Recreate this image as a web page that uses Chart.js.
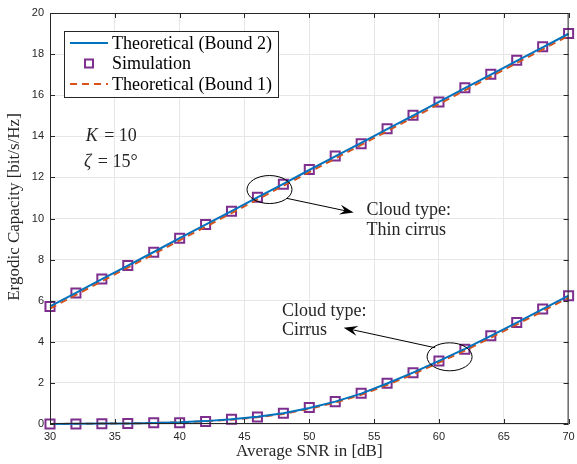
<!DOCTYPE html>
<html>
<head>
<meta charset="utf-8">
<script src="https://cdn.jsdelivr.net/npm/chart.js@4.4.0/dist/chart.umd.min.js"></script>
<style>
  html, body { margin: 0; padding: 0; background: #fff; }
  #wrap { width: 577px; height: 464px; }
</style>
</head>
<body>
<div id="wrap"><canvas id="grafica"></canvas></div>
<script>
// datos
var snr = [30, 32, 34, 36, 38, 40, 42, 44, 46, 48, 50, 52, 54, 56, 58, 60, 62, 64, 66, 68, 70];

var thinBound2 = [5.72, 6.38, 7.05, 7.71, 8.37, 9.04, 9.70, 10.36, 11.03, 11.69, 12.36, 13.02, 13.68, 14.35, 15.01, 15.67, 16.34, 17.00, 17.67, 18.33, 18.99];
var thinSim    = [5.72, 6.37, 7.06, 7.71, 8.36, 9.04, 9.71, 10.35, 11.03, 11.67, 12.38, 13.04, 13.64, 14.37, 15.02, 15.67, 16.36, 17.02, 17.70, 18.36, 19.00];
var thinBound1 = [5.62, 6.28, 6.95, 7.61, 8.27, 8.94, 9.60, 10.26, 10.93, 11.59, 12.26, 12.92, 13.58, 14.25, 14.91, 15.57, 16.24, 16.90, 17.57, 18.23, 18.89];

var cirrusBound2 = [0.00, 0.01, 0.02, 0.03, 0.05, 0.08, 0.14, 0.23, 0.35, 0.52, 0.78, 1.09, 1.48, 1.97, 2.50, 3.07, 3.66, 4.29, 4.93, 5.59, 6.25];
var cirrusSim    = [0.00, 0.00, 0.01, 0.02, 0.06, 0.06, 0.12, 0.23, 0.34, 0.52, 0.80, 1.09, 1.50, 1.98, 2.49, 3.07, 3.64, 4.29, 4.94, 5.60, 6.24];
var cirrusBound1 = [0.00, 0.01, 0.02, 0.03, 0.05, 0.08, 0.13, 0.21, 0.33, 0.49, 0.74, 1.04, 1.42, 1.90, 2.42, 2.99, 3.57, 4.20, 4.84, 5.49, 6.15];

var xTicks = [30, 35, 40, 45, 50, 55, 60, 65, 70];
var yTicks = [0, 2, 4, 6, 8, 10, 12, 14, 16, 18, 20];

var azul = '#0072BD';
var naranja = '#D95319';
var morado = '#7E2F8E';
var serif = '"Liberation Serif", "Times New Roman", serif';
var sans = '"Liberation Sans", Arial, sans-serif';

function pares(ys) {
    return snr.map(function (x, i) { return { x: x, y: ys[i] }; });
}

// anotaciones en coordenadas de datos
var textos = [
    { x: 32.75, y: 14.0, t: 'K = 10', tipo: 'K' },
    { x: 32.62, y: 12.73, t: 'ζ = 15°', tipo: 'zeta' },
    { x: 54.41, y: 10.39, t: 'Cloud type:' },
    { x: 54.41, y: 9.41, t: 'Thin cirrus' },
    { x: 47.89, y: 5.51, t: 'Cloud type:' },
    { x: 47.89, y: 4.54, t: 'Cirrus' }
];
var elipses = [
    { x: 46.93, y: 11.41 },
    { x: 60.82, y: 3.27 }
];
var flechas = [
    { x0: 48.27, y0: 10.98, x1: 53.42, y1: 10.29 },
    { x0: 59.71, y0: 3.71, x1: 52.65, y1: 4.68 }
];

var decoracion = {
    id: 'decoracion',
    afterDatasetsDraw: function (chart) {
        var ctx = chart.ctx;
        var a = chart.chartArea;
        var xs = chart.scales.x, ys = chart.scales.y;
        ctx.save();
        // marco y marcas interiores
        ctx.strokeStyle = '#262626';
        ctx.lineWidth = 1;
        ctx.strokeRect(a.left + 0.5, a.top + 0.5, a.right - a.left - 1, a.bottom - a.top - 1);
        ctx.beginPath();
        xTicks.forEach(function (v) {
            var px = Math.round(xs.getPixelForValue(v)) + 0.5;
            ctx.moveTo(px, a.bottom); ctx.lineTo(px, a.bottom - 5);
            ctx.moveTo(px, a.top); ctx.lineTo(px, a.top + 5);
        });
        yTicks.forEach(function (v) {
            var py = Math.round(ys.getPixelForValue(v)) + 0.5;
            ctx.moveTo(a.left, py); ctx.lineTo(a.left + 5, py);
            ctx.moveTo(a.right, py); ctx.lineTo(a.right - 5, py);
        });
        ctx.stroke();

        // titulos de ejes
        ctx.fillStyle = '#262626';
        ctx.font = '17px ' + serif;
        ctx.textAlign = 'center';
        ctx.textBaseline = 'middle';
        ctx.fillText('Average SNR in [dB]', (a.left + a.right) / 2, 452);
        ctx.save();
        ctx.translate(15, 207);
        ctx.rotate(-Math.PI / 2);
        ctx.fillText('Ergodic Capacity [bit/s/Hz]', 0, 0);
        ctx.restore();

        // elipses
        ctx.strokeStyle = '#000';
        ctx.lineWidth = 1;
        elipses.forEach(function (e) {
            ctx.beginPath();
            ctx.ellipse(xs.getPixelForValue(e.x), ys.getPixelForValue(e.y), 22.5, 14, 0, 0, Math.PI * 2);
            ctx.stroke();
        });
        // flechas
        flechas.forEach(function (f) {
            var x0 = xs.getPixelForValue(f.x0), y0 = ys.getPixelForValue(f.y0);
            var x1 = xs.getPixelForValue(f.x1), y1 = ys.getPixelForValue(f.y1);
            var ang = Math.atan2(y1 - y0, x1 - x0);
            ctx.beginPath();
            ctx.moveTo(x0, y0); ctx.lineTo(x1 - 6 * Math.cos(ang), y1 - 6 * Math.sin(ang));
            ctx.stroke();
            ctx.beginPath();
            ctx.moveTo(x1, y1);
            ctx.lineTo(x1 - 14 * Math.cos(ang) + 5 * Math.sin(ang), y1 - 14 * Math.sin(ang) - 5 * Math.cos(ang));
            ctx.lineTo(x1 - 9 * Math.cos(ang), y1 - 9 * Math.sin(ang));
            ctx.lineTo(x1 - 14 * Math.cos(ang) - 5 * Math.sin(ang), y1 - 14 * Math.sin(ang) + 5 * Math.cos(ang));
            ctx.closePath();
            ctx.fillStyle = '#000';
            ctx.fill();
        });
        // textos
        ctx.fillStyle = '#262626';
        ctx.textBaseline = 'middle';
        ctx.textAlign = 'left';
        textos.forEach(function (t) {
            var px = xs.getPixelForValue(t.x), py = ys.getPixelForValue(t.y);
            if (t.tipo === 'K') {
                ctx.font = 'italic 18px ' + serif;
                ctx.fillText('K', px, py);
                var w = ctx.measureText('K ').width;
                ctx.font = '18px ' + serif;
                ctx.fillText('= 10', px + w + 2, py);
            } else if (t.tipo === 'zeta') {
                ctx.font = 'italic 18px ' + serif;
                ctx.fillText('ζ', px, py);
                var w2 = ctx.measureText('ζ ').width;
                ctx.font = '18px ' + serif;
                ctx.fillText('= 15°', px + w2 + 2, py);
            } else {
                ctx.font = '18px ' + serif;
                ctx.fillText(t.t, px, py);
            }
        });

        // leyenda
        var lx = a.left + 14, ly = a.top + 18;
        ctx.fillStyle = '#fff';
        ctx.fillRect(lx, ly, 214, 66);
        ctx.strokeStyle = '#262626';
        ctx.strokeRect(lx + 0.5, ly + 0.5, 214, 66);
        var filas = [
            { t: 'Theoretical (Bound 2)', tipo: 'linea' },
            { t: 'Simulation', tipo: 'cuadro' },
            { t: 'Theoretical (Bound 1)', tipo: 'guion' }
        ];
        filas.forEach(function (f, i) {
            var cy = ly + 12 + i * 20.5;
            ctx.lineWidth = 2;
            if (f.tipo === 'linea') {
                ctx.strokeStyle = azul;
                ctx.setLineDash([]);
                ctx.beginPath(); ctx.moveTo(lx + 6, cy); ctx.lineTo(lx + 44, cy); ctx.stroke();
            } else if (f.tipo === 'guion') {
                ctx.strokeStyle = naranja;
                ctx.setLineDash([7, 5]);
                ctx.beginPath(); ctx.moveTo(lx + 6, cy); ctx.lineTo(lx + 44, cy); ctx.stroke();
                ctx.setLineDash([]);
            } else {
                ctx.strokeStyle = morado;
                ctx.strokeRect(lx + 21, cy - 4, 8, 8);
            }
            ctx.fillStyle = '#000';
            ctx.font = '18px ' + serif;
            ctx.textBaseline = 'middle';
            ctx.fillText(f.t, lx + 48, cy + 1);
        });
        ctx.restore();
    }
};

var ctx = document.getElementById('grafica').getContext('2d');

var comun = { borderWidth: 2, pointRadius: 0, fill: false, tension: 0, clip: false };
var marcas = { showLine: false, pointStyle: 'rect', pointRadius: 6.4, pointBorderWidth: 2, pointBorderColor: morado, pointBackgroundColor: 'rgba(0,0,0,0)', clip: false };

var miGrafico = new Chart(ctx, {
    type: 'line',
    data: {
        datasets: [
            Object.assign({ label: 'Theoretical (Bound 2)', data: pares(thinBound2), borderColor: azul }, comun),
            Object.assign({ label: 'Theoretical (Bound 2) cirrus', data: pares(cirrusBound2), borderColor: azul }, comun),
            Object.assign({ label: 'Theoretical (Bound 1)', data: pares(thinBound1), borderColor: naranja, borderDash: [7, 5] }, comun),
            Object.assign({ label: 'Theoretical (Bound 1) cirrus', data: pares(cirrusBound1), borderColor: naranja, borderDash: [7, 5] }, comun),
            Object.assign({ label: 'Simulation', data: pares(thinSim) }, marcas),
            Object.assign({ label: 'Simulation cirrus', data: pares(cirrusSim) }, marcas)
        ]
    },
    options: {
        responsive: true,
        maintainAspectRatio: false,
        animation: false,
        layout: { padding: { left: 0, right: 0, top: 13, bottom: 0 } },
        plugins: {
            legend: { display: false },
            tooltip: { enabled: false }
        },
        scales: {
            x: {
                type: 'linear',
                min: 30,
                max: 70,
                afterBuildTicks: function (s) { s.ticks = xTicks.map(function (v) { return { value: v }; }); },
                afterFit: function (s) { s.height = 40; s.paddingLeft = 0; s.paddingRight = 0; },
                grid: { color: '#e6e6e6', drawTicks: false },
                border: { display: false },
                ticks: { color: '#262626', font: { family: sans, size: 11 }, padding: 6, maxRotation: 0 }
            },
            y: {
                min: 0,
                max: 20,
                afterBuildTicks: function (s) { s.ticks = yTicks.map(function (v) { return { value: v }; }); },
                afterFit: function (s) { s.width = 50; s.paddingTop = 0; s.paddingBottom = 0; },
                grid: { color: '#e6e6e6', drawTicks: false },
                border: { display: false },
                ticks: { color: '#262626', font: { family: sans, size: 11 }, padding: 6 }
            }
        }
    },
    plugins: [decoracion]
});
</script>
</body>
</html>
